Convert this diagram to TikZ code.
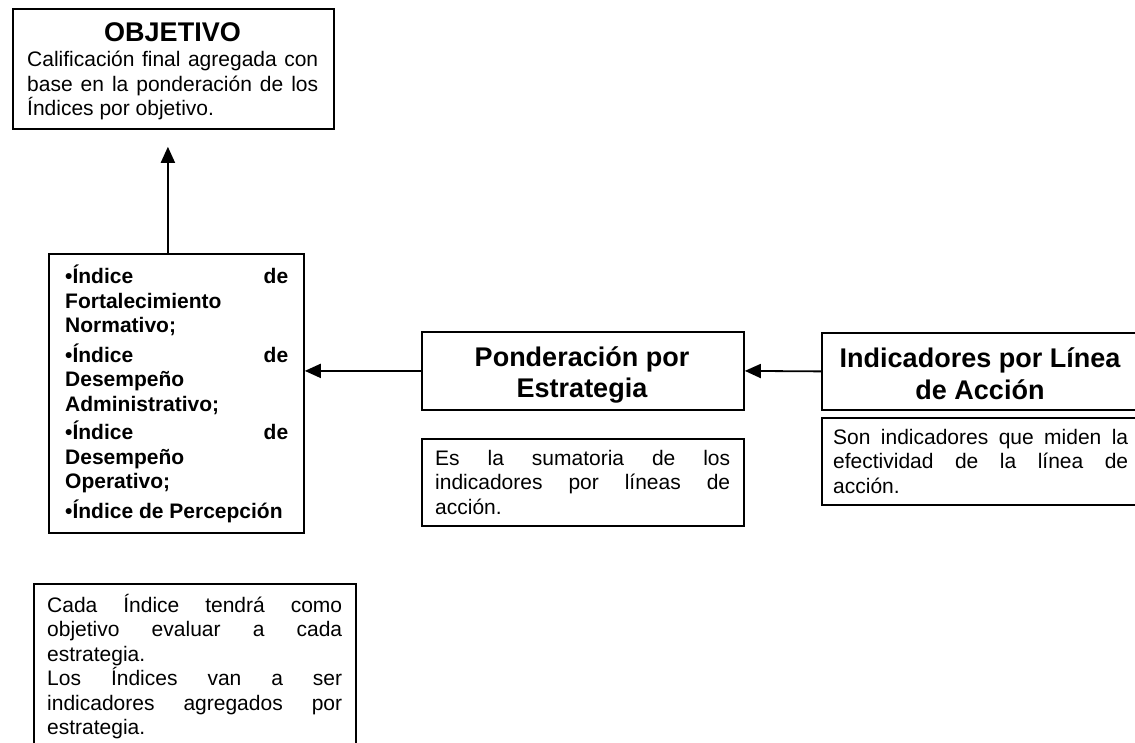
\documentclass[tikz,border=0pt]{standalone}
\usepackage{fontspec}
\setmainfont{Liberation Sans}
\usetikzlibrary{arrows.meta}
\begin{document}
\begin{tikzpicture}[x=1pt,y=-1pt,
  box/.style={draw, line width=1.8pt, inner sep=0pt, anchor=north west},
  txt/.style={inner sep=0pt, anchor=base west, font=\fontsize{21}{24.5}\selectfont},
  btxt/.style={txt, font=\fontsize{21}{24.5}\selectfont\bfseries},
  ttl/.style={inner sep=0pt, anchor=base, font=\fontsize{27}{32}\selectfont\bfseries},
  arr/.style={line width=1.8pt, -{Triangle[length=16pt,width=14pt]}},
]
\useasboundingbox (0,0) rectangle (1135,743);
\clip (0,0) rectangle (1135,743);

% boxes
\node[box, minimum width=321pt, minimum height=120pt] (obj) at (12,8) {};
\node[box, minimum width=255pt, minimum height=279pt] (list) at (48,253) {};
\node[box, minimum width=322pt, minimum height=78pt] (pond) at (421,331) {};
\node[box, minimum width=322pt, minimum height=87pt] (d1) at (421,438) {};
\node[box, minimum width=324pt, minimum height=77pt] (ind) at (821,332) {};
\node[box, minimum width=324pt, minimum height=87pt] (d2) at (821,417) {};
\node[box, minimum width=322pt, minimum height=250pt] (bot) at (33,583) {};

% texts
\node[ttl] (objT) at (172.5,42) {OBJETIVO};
\node[txt] (objB) at (27,67) {\parbox[t]{291pt}{%
\makebox[291pt][s]{Calificación final agregada con}\\
\makebox[291pt][s]{base en la ponderación de los}\\
Índices por objetivo.}};

\node[btxt] (listT) at (65,284) {\parbox[t]{223pt}{%
\makebox[223pt][l]{•Índice\hfill de}\\
Fortalecimiento\\
Normativo;\\[4.5pt]
\makebox[223pt][l]{•Índice\hfill de}\\
Desempeño\\
Administrativo;\\[4.5pt]
\makebox[223pt][l]{•Índice\hfill de}\\
Desempeño\\
Operativo;\\[4.5pt]
•Índice de Percepción}};

\node[ttl] (pondT) at (582,366) {\parbox[t]{322pt}{\centering Ponderación por\\ Estrategia}};
\node[ttl] (indT) at (980,367) {\parbox[t]{324pt}{\centering Indicadores por Línea\\ de Acción}};

\node[txt] (d1T) at (435,465) {\parbox[t]{295pt}{%
\makebox[295pt][s]{Es la sumatoria de los}\\
\makebox[295pt][s]{indicadores por líneas de}\\
acción.}};

\node[txt] (d2T) at (833,444) {\parbox[t]{295pt}{%
\makebox[295pt][s]{Son indicadores que miden la}\\
\makebox[295pt][s]{efectividad de la línea de}\\
acción.}};

\node[txt] (botT) at (47,612) {\parbox[t]{295pt}{%
\makebox[295pt][s]{Cada Índice tendrá como}\\
\makebox[295pt][s]{objetivo evaluar a cada}\\
estrategia.\\
\makebox[295pt][s]{Los Índices van a ser}\\
\makebox[295pt][s]{indicadores agregados por}\\
estrategia.}};

% connectors
\draw[arr] (ind.west) -- (pond.east);
\draw[arr] (pond.west) -- (pond.west -| list.east);
\draw[arr] ([xshift=-8.5pt]list.north) -- ([xshift=-5.5pt,yshift=-17pt]obj.south);
\end{tikzpicture}
\end{document}
